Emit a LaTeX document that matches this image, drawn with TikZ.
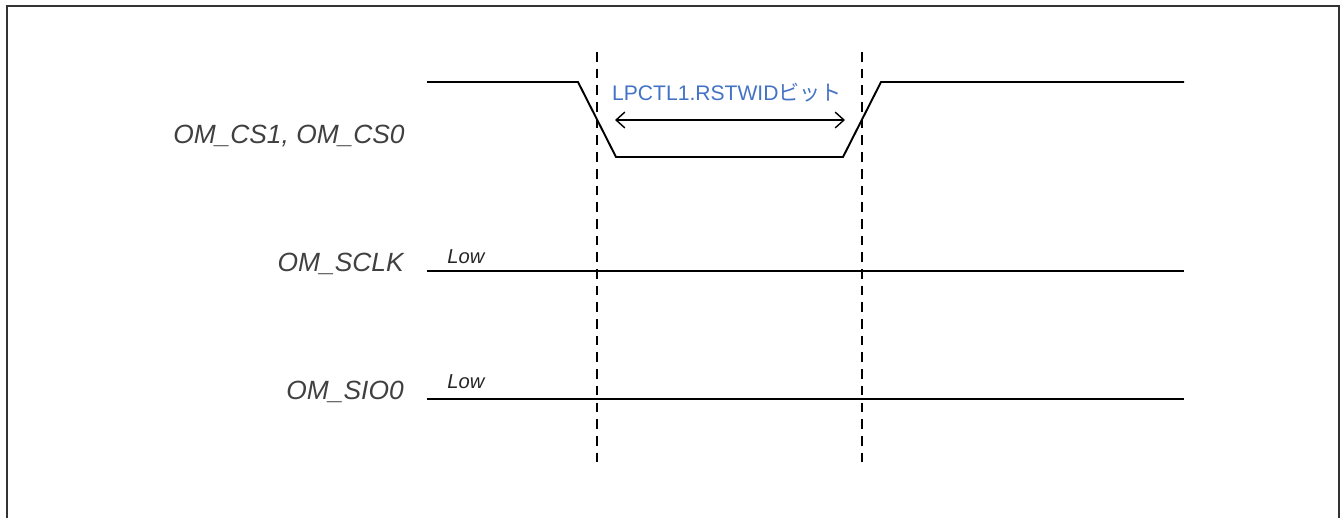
\documentclass[tikz,border=0pt]{standalone}
\usepackage{fontspec}
\setmainfont{Liberation Sans}
\newfontfamily\jpfont{Noto Sans CJK JP}
\usetikzlibrary{arrows.meta,positioning}

\begin{document}
\begin{tikzpicture}[
  x=0.02cm, y=-0.02cm,
  signame/.style={font=\fontsize{15}{18}\selectfont\itshape, text=black!75,
                  anchor=base east, inner sep=0pt},
  lvl/.style={font=\fontsize{11.5}{13}\selectfont\itshape, text=black!85,
              anchor=base west, inner sep=0pt},
  wave/.style={line width=1.1pt, line join=miter},
  guide/.style={line width=1.4pt, dash pattern=on 5.5pt off 4pt},
  arr/.style={{Straight Barb[length=5pt,width=9pt]}-{Straight Barb[length=5pt,width=9pt]},
              line width=0.8pt},
  frame/.style={line width=1pt, draw=black!80},
  widlabel/.style={font=\fontsize{12}{14}\selectfont, anchor=base, inner sep=0pt}
]
\definecolor{rstblue}{HTML}{4472C4}
\useasboundingbox (0,0) rectangle (1341,518);

% frame (open at the bottom)
\draw[frame] (7,518) -- (7,6) -- (1339,6) -- (1339,518);

% signal names
\node[signame] (cs)   at (405,143) {OM\_CS1, OM\_CS0};
\node[signame] (sclk) at (404,271) {OM\_SCLK};
\node[signame] (sio)  at (404,399) {OM\_SIO0};

% chip select waveform
\coordinate (cs0) at (427,82);
\coordinate (cs1) at (578,82);
\coordinate (cs2) at (616,157);
\coordinate (cs3) at (843,157);
\coordinate (cs4) at (881,82);
\coordinate (cs5) at (1184,82);
\draw[wave] (cs0) -- (cs1) -- (cs2) -- (cs3) -- (cs4) -- (cs5);

% clock and data held low
\coordinate (sclk0) at (427,271);
\coordinate (sclk1) at (1184,271);
\coordinate (sio0) at (427,399);
\coordinate (sio1) at (1184,399);
\draw[wave] (sclk0) -- (sclk1);
\draw[wave] (sio0) -- (sio1);
\node[lvl] (sclklow) at (447,263) {Low};
\node[lvl] (siolow)  at (447,388) {Low};

% timing guides
\coordinate (g1top) at (597,52);
\coordinate (g1bot) at (597,462);
\coordinate (g2top) at (862,52);
\coordinate (g2bot) at (862,462);
\draw[guide] (g1top) -- (g1bot);
\draw[guide] (g2top) -- (g2bot);

% reset width
\coordinate (wl) at (615,120);
\coordinate (wr) at (845,120);
\draw[arr] (wl) -- (wr);
\node[widlabel, text=rstblue] (wid) at (727,100) {LPCTL1.RSTWID{\jpfont ビット}};

\end{tikzpicture}
\end{document}
